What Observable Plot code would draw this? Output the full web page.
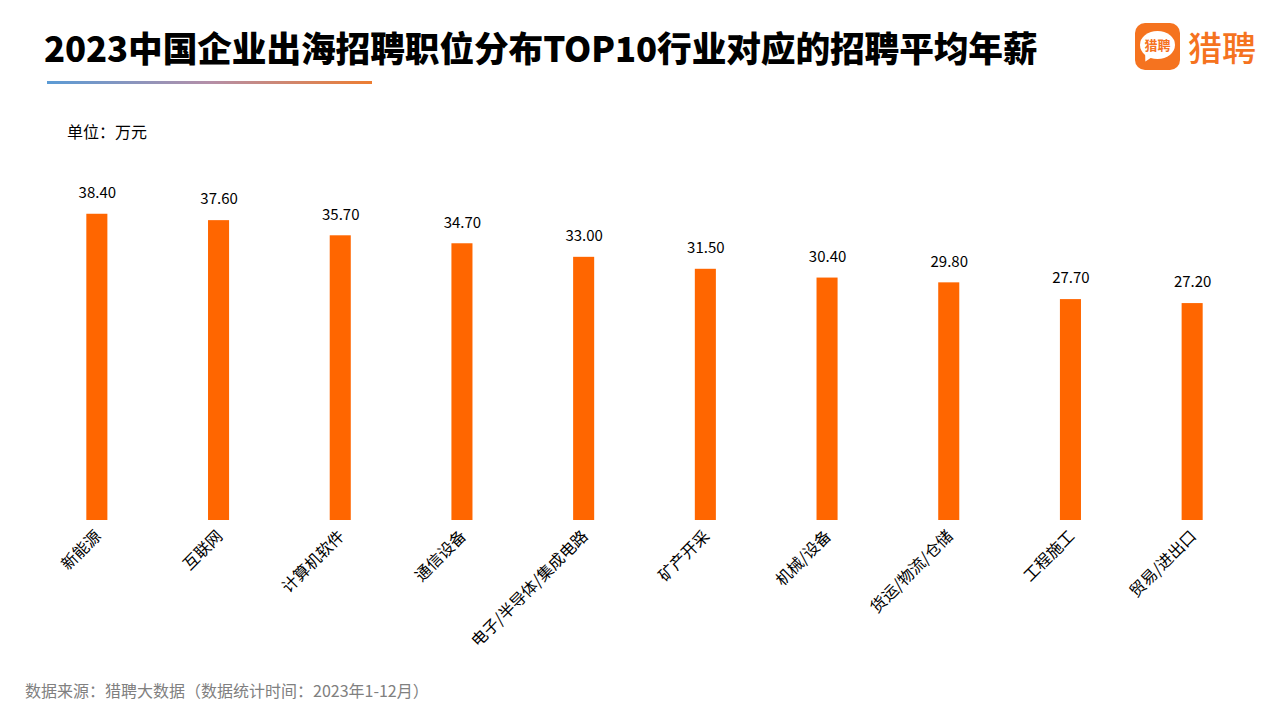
<!DOCTYPE html>
<html>
<head>
<meta charset="utf-8">
<script src="https://cdn.jsdelivr.net/npm/d3@7"></script>
<script src="https://cdn.jsdelivr.net/npm/@observablehq/plot@0.6"></script>
<style>
  html, body { margin: 0; padding: 0; background: #fff; overflow: hidden; }
  body { font-family: "Noto Sans CJK SC", "Noto Sans", sans-serif; }
  #wrap { position: relative; width: 1280px; height: 720px; }
  #header { position: relative; height: 100px; }
  #title { position: absolute; left: 44px; top: 21px; font-size: 34.7px; font-weight: 900; color: #000; letter-spacing: -0.1px; white-space: nowrap; line-height: 52px; }
  #rule { position: absolute; left: 47px; top: 81px; width: 325px; height: 3px; background: linear-gradient(to right, #5b9bd5, #b48fa8 50%, #ed7d31); }
  #logo { position: absolute; left: 1135px; top: 23px; height: 47px; display: flex; align-items: center; }
  #logoBox { width: 45px; height: 47px; border-radius: 10px; background: #f5731f; position: relative; }
  #bubble { position: absolute; left: 5px; top: 8px; width: 35px; height: 28px; border-radius: 50%; background: #fff; color: #f5731f; font-size: 13px; font-weight: 700; text-align: center; line-height: 28px; }
  #tail { position: absolute; left: 8px; top: 31px; width: 0; height: 0; border-left: 4px solid transparent; border-right: 5px solid transparent; border-top: 8px solid #fff; transform: rotate(25deg); }
  #logoText { margin-left: 8px; font-size: 34px; font-weight: 500; color: #f5731f; letter-spacing: 0px; line-height: 47px; }
  #unit { position: absolute; left: 67px; top: 120px; font-size: 16px; color: #000; line-height: 22px; }
  #chart { position: relative; height: 580px; }
  #source { position: absolute; left: 25px; top: 679px; font-size: 16px; color: #808080; line-height: 22px; }
</style>
</head>
<body>
<div id="wrap">
  <div id="header">
    <div id="title">2023中国企业出海招聘职位分布TOP10行业对应的招聘平均年薪</div>
    <div id="rule"></div>
    <div id="logo">
      <div id="logoBox"><div id="tail"></div><div id="bubble">猎聘</div></div>
      <div id="logoText">猎聘</div>
    </div>
  </div>
  <div id="unit">单位：万元</div>
  <div id="chart"></div>
  <div id="source">数据来源：猎聘大数据（数据统计时间：2023年1-12月）</div>
</div>
<script>
const industries = ["新能源", "互联网", "计算机软件", "通信设备", "电子/半导体/集成电路", "矿产开采", "机械/设备", "货运/物流/仓储", "工程施工", "贸易/进出口"];
const salaries = [38.40, 37.60, 35.70, 34.70, 33.00, 31.50, 30.40, 29.80, 27.70, 27.20];

const data = industries.map((name, i) => ({name, value: salaries[i]}));

const chart = Plot.plot({
  width: 1280,
  height: 580,
  marginTop: 101,
  marginBottom: 160,
  marginLeft: 36,
  marginRight: 27,
  style: {fontFamily: '"Noto Sans CJK SC", "Noto Sans", sans-serif', fontSize: "15px", color: "#000", background: "transparent"},
  x: {domain: industries, paddingInner: 0.827, paddingOuter: 0.4135, round: false, label: null},
  y: {domain: [0, 40], axis: null},
  marks: [
    Plot.barY(data, {x: "name", y: "value", fill: "#ff6600"}),
    Plot.text(data, {x: "name", y: "value", text: d => d.value.toFixed(2), dy: -21, fontSize: 15, fill: "#000"}),
    Plot.axisX({tickSize: 0, tickRotate: -45, tickPadding: 13, dx: 1, fontSize: 16, fill: "#000", label: null})
  ]
});
document.getElementById("chart").appendChild(chart);
</script>
</body>
</html>
